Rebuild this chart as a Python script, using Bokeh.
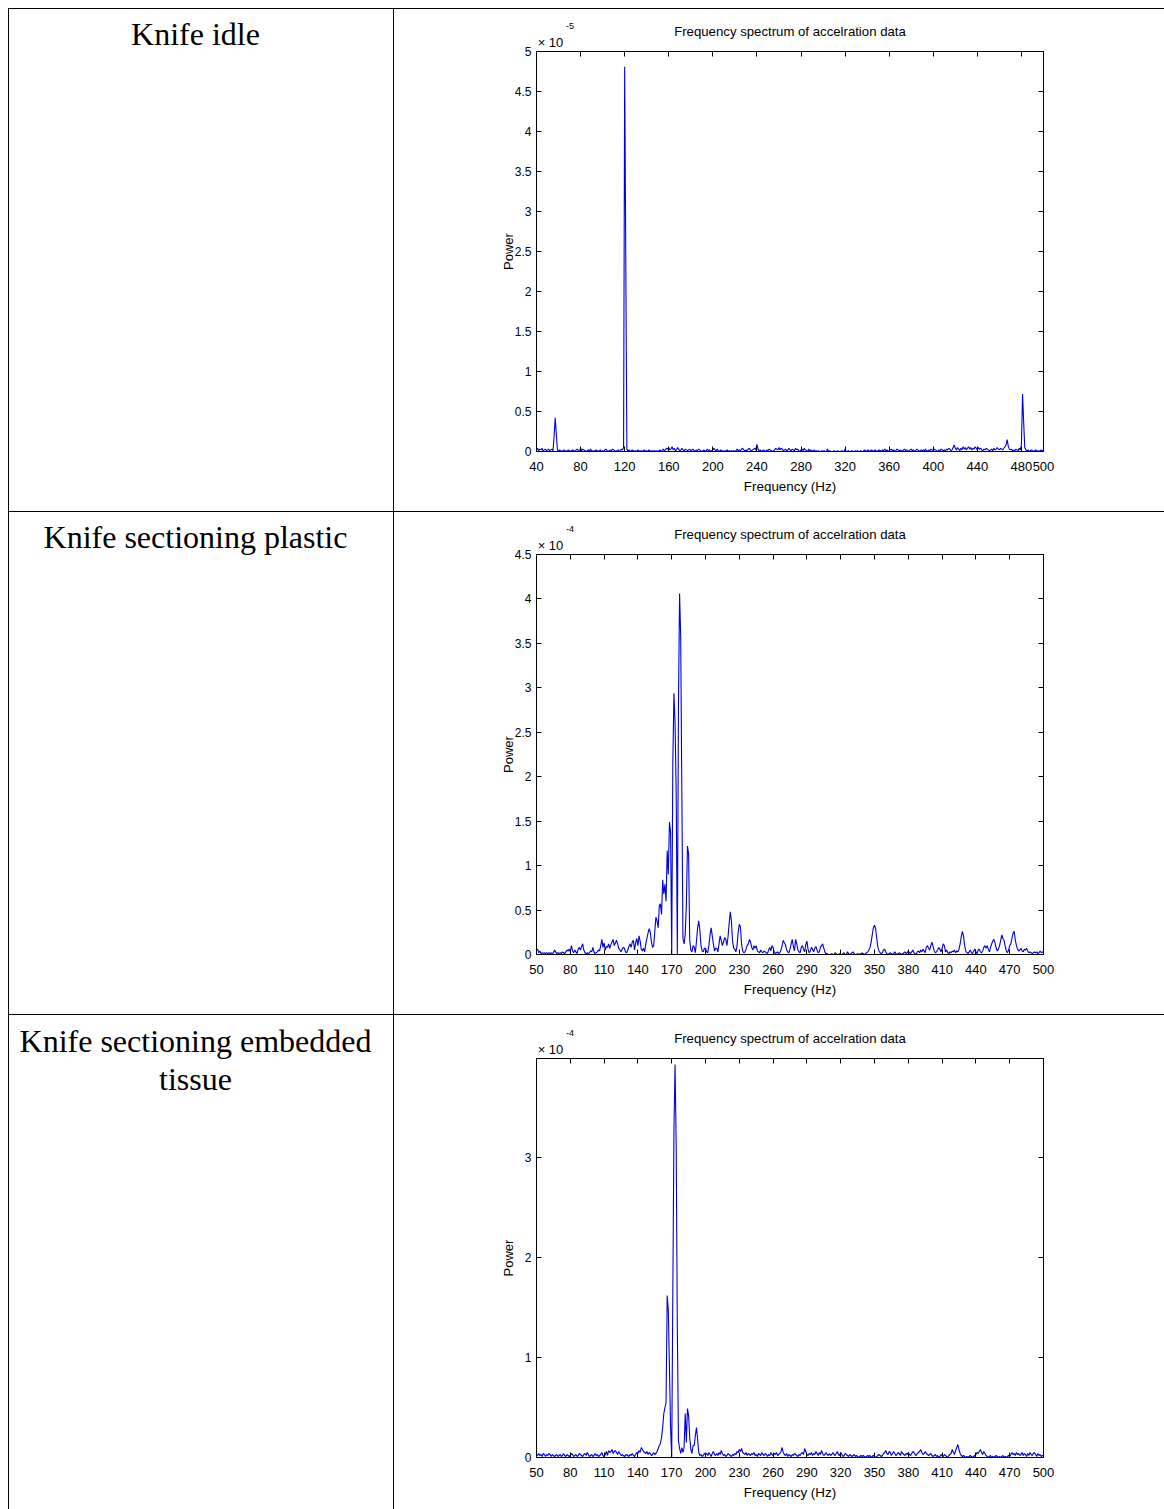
from bokeh.plotting import figure
from bokeh.layouts import row, column
from bokeh.models import Range1d, LinearAxis, FixedTicker, Spacer, Title
from bokeh.core.properties import value
from bokeh.embed import file_html
from bokeh.resources import INLINE

# ---------------------------------------------------------------- data
ROW_LABELS = [
    ["Knife idle"],
    ["Knife sectioning plastic"],
    ["Knife sectioning embedded", "tissue"],
]
TITLE = "Frequency spectrum of accelration data"
X_LABEL = "Frequency (Hz)"
Y_LABEL = "Power"

# Knife idle: power per 1 Hz bin from 40 Hz to 500 Hz, in units of 1e-5
IDLE_START_HZ = 40
IDLE_POWER = [
    .02, .04, .01, .03, .02, .04, .01, .02, .03, .01,
    .02, .03, .01, .02, .03, .01, .20, .42, .21, .02,
    .01, .02, .01, .00, .01, .02, .01, .00, .01, .02,
    .01, .00, .01, .02, .01, .00, .02, .03, .01, .00,
    .04, .01, .03, .02, .01, .00, .01, .02, .00, .03,
    .01, .00, .01, .00, .02, .01, .00, .01, .02, .00,
    .01, .00, .02, .03, .01, .00, .01, .02, .01, .03,
    .02, .01, .00, .01, .02, .01, .00, .03, .02, .05,
    4.81, 2.40, .03, .01, .02, .00, .01, .02, .01, .00,
    .01, .00, .02, .01, .00, .01, .00, .01, .02, .00,
    .01, .00, .02, .01, .00, .01, .00, .01, .00, .01,
    .00, .01, .02, .00, .01, .03, .01, .02, .04, .03,
    .05, .02, .03, .06, .02, .04, .01, .02, .05, .03,
    .01, .02, .04, .02, .01, .03, .02, .01, .02, .03,
    .01, .02, .03, .01, .00, .02, .01, .03, .02, .01,
    .00, .01, .02, .00, .01, .03, .01, .02, .00, .01,
    .02, .04, .02, .01, .03, .01, .00, .02, .01, .00,
    .01, .00, .01, .02, .00, .01, .00, .01, .00, .01,
    .00, .01, .03, .01, .02, .01, .03, .04, .02, .01,
    .02, .01, .03, .04, .02, .01, .02, .03, .04, .02,
    .09, .03, .01, .02, .00, .01, .02, .01, .00, .02,
    .01, .03, .02, .01, .00, .01, .02, .04, .03, .02,
    .05, .02, .04, .03, .01, .02, .03, .01, .02, .04,
    .02, .01, .03, .02, .01, .04, .02, .03, .01, .00,
    .02, .03, .01, .04, .02, .01, .00, .03, .01, .02,
    .01, .00, .02, .00, .01, .00, .01, .00, .00, .01,
    .00, .01, .00, .00, .03, .00, .01, .00, .00, .00,
    .01, .00, .00, .01, .00, .00, .00, .01, .00, .00,
    .03, .00, .00, .01, .00, .00, .01, .00, .00, .01,
    .00, .01, .00, .00, .01, .00, .00, .01, .02, .00,
    .01, .02, .00, .01, .02, .01, .00, .02, .01, .00,
    .01, .02, .01, .00, .02, .01, .03, .01, .02, .00,
    .01, .02, .03, .01, .02, .00, .01, .03, .02, .01,
    .02, .01, .00, .02, .03, .01, .02, .00, .01, .02,
    .03, .01, .02, .00, .01, .03, .02, .01, .00, .02,
    .01, .02, .01, .03, .00, .01, .02, .01, .03, .02,
    .01, .03, .02, .01, .00, .02, .01, .03, .02, .01,
    .02, .01, .03, .02, .04, .03, .01, .02, .05, .08,
    .04, .02, .05, .03, .01, .04, .02, .06, .03, .05,
    .02, .04, .06, .03, .05, .02, .04, .03, .06, .04,
    .02, .05, .03, .04, .02, .01, .03, .02, .04, .03,
    .02, .01, .02, .03, .01, .04, .02, .03, .05, .03,
    .02, .04, .03, .02, .04, .06, .08, .15, .07, .03,
    .02, .03, .01, .02, .01, .03, .02, .01, .04, .02,
    .10, .72, .37, .05, .02, .01, .02, .00, .01, .02,
    .01, .00, .01, .02, .00, .01, .00, .01, .02, .01,
    .01,
]

# Knife sectioning plastic: 1 Hz bins from 50 Hz to 500 Hz, units of 1e-4
PLASTIC_START_HZ = 50
PLASTIC_POWER = [
    .05, .06, .02, .04, .01, .02, .01, .02, .01, .02,
    .01, .02, .01, .02, .01, .02, .05, .03, .01, .02,
    .01, .02, .01, .03, .02, .01, .03, .05, .04, .06,
    .03, .10, .04, .02, .05, .03, .01, .06, .08, .05,
    .09, .12, .05, .02, .01, .02, .01, .02, .04, .03,
    .08, .03, .01, .02, .03, .05, .04, .10, .17, .08,
    .13, .05, .09, .08, .12, .07, .11, .14, .17, .10,
    .13, .16, .12, .07, .05, .03, .06, .08, .07, .03,
    .02, .05, .09, .12, .08, .14, .16, .05, .13, .18,
    .10, .21, .15, .06, .04, .07, .03, .12, .18, .24,
    .29, .25, .14, .08, .10, .26, .42, .38, .30, .55,
    .57, .45, .84, .68, .79, .60, 1.17, .90, 1.49, 1.38,
    .00, 2.16, 2.94, 2.60, 1.80, .00, 2.80, 4.06, 3.57, 1.82,
    .18, .12, .23, .55, 1.22, 1.13, .16, .05, .03, .10,
    .08, .02, .15, .30, .38, .27, .10, .04, .03, .07,
    .07, .03, .02, .10, .22, .30, .21, .12, .04, .07,
    .07, .03, .12, .21, .16, .10, .14, .19, .17, .10,
    .20, .35, .48, .38, .15, .07, .06, .03, .10, .25,
    .34, .31, .12, .04, .02, .03, .06, .10, .12, .17,
    .14, .08, .05, .10, .07, .10, .04, .03, .02, .05,
    .03, .02, .04, .03, .02, .01, .05, .08, .04, .10,
    .08, .03, .01, .02, .03, .01, .02, .05, .10, .16,
    .13, .11, .05, .03, .02, .06, .12, .17, .09, .04,
    .17, .12, .05, .03, .02, .08, .10, .06, .03, .11,
    .15, .06, .02, .04, .08, .06, .03, .07, .09, .05,
    .02, .03, .08, .10, .12, .07, .03, .01, .01, .00,
    .00, .00, .01, .00, .00, .02, .01, .00, .00, .01,
    .00, .00, .01, .02, .00, .00, .03, .01, .00, .01,
    .02, .03, .01, .00, .00, .01, .00, .01, .00, .02,
    .01, .00, .01, .02, .03, .05, .08, .14, .22, .30,
    .33, .29, .18, .08, .04, .02, .01, .02, .05, .06,
    .03, .01, .00, .01, .02, .01, .00, .01, .03, .01,
    .00, .01, .02, .01, .00, .01, .02, .03, .01, .02,
    .04, .02, .01, .03, .05, .02, .01, .00, .03, .04,
    .02, .05, .03, .06, .04, .02, .08, .10, .07, .05,
    .10, .14, .09, .04, .02, .03, .05, .08, .06, .03,
    .07, .12, .10, .03, .05, .02, .01, .03, .02, .04,
    .03, .05, .02, .04, .03, .06, .12, .20, .26, .21,
    .10, .04, .02, .01, .03, .05, .02, .01, .04, .06,
    .03, .01, .05, .06, .03, .02, .04, .08, .10, .07,
    .10, .06, .03, .08, .12, .15, .17, .13, .07, .04,
    .06, .10, .16, .22, .18, .16, .09, .04, .02, .05,
    .10, .12, .18, .24, .26, .16, .10, .06, .04, .05,
    .07, .04, .03, .06, .05, .07, .04, .02, .03, .02,
    .01, .02, .03, .02, .03, .01, .02, .04, .02, .03,
    .02,
]

# Knife sectioning embedded tissue: 1 Hz bins from 50 Hz to 500 Hz, units of 1e-4
TISSUE_START_HZ = 50
TISSUE_POWER = [
    .03, .02, .04, .02, .03, .01, .04, .03, .01, .03,
    .02, .04, .03, .01, .03, .02, .01, .02, .03, .01,
    .02, .03, .01, .02, .04, .02, .01, .03, .02, .01,
    .02, .04, .03, .01, .02, .03, .01, .02, .04, .03,
    .02, .01, .03, .04, .02, .05, .03, .01, .02, .03,
    .01, .02, .04, .02, .03, .01, .02, .03, .05, .02,
    .01, .03, .06, .02, .07, .05, .06, .08, .04, .06,
    .07, .05, .03, .06, .04, .02, .03, .02, .01, .02,
    .03, .02, .01, .03, .02, .04, .02, .01, .03, .05,
    .04, .07, .05, .10, .08, .06, .05, .04, .06, .03,
    .05, .04, .02, .03, .05, .03, .04, .06, .09, .12,
    .14, .20, .30, .44, .50, .55, 1.62, 1.47, .90, .30,
    .00, 1.64, 3.29, 3.93, 3.10, 1.29, .17, .09, .04, .10,
    .05, .10, .44, .15, .49, .42, .20, .08, .04, .12,
    .12, .22, .30, .18, .05, .02, .03, .01, .02, .04,
    .03, .04, .02, .05, .03, .01, .04, .06, .03, .02,
    .04, .02, .05, .03, .07, .04, .02, .03, .01, .02,
    .04, .03, .02, .01, .03, .02, .04, .03, .06, .05,
    .08, .06, .09, .05, .04, .03, .05, .02, .04, .03,
    .02, .04, .03, .05, .02, .03, .01, .04, .03, .02,
    .05, .03, .02, .04, .03, .01, .03, .02, .05, .03,
    .02, .04, .03, .05, .02, .03, .04, .06, .10, .05,
    .03, .02, .04, .01, .03, .02, .01, .03, .02, .04,
    .03, .02, .01, .03, .02, .04, .05, .03, .09, .06,
    .03, .02, .04, .03, .05, .02, .04, .03, .06, .04,
    .02, .05, .03, .07, .04, .02, .03, .05, .03, .02,
    .04, .02, .03, .05, .03, .02, .04, .06, .03, .02,
    .05, .03, .01, .02, .04, .03, .02, .01, .03, .02,
    .01, .02, .03, .01, .02, .01, .00, .01, .02, .01,
    .02, .01, .00, .01, .02, .01, .02, .00, .01, .02,
    .01, .00, .01, .02, .03, .02, .01, .02, .04, .05,
    .07, .04, .03, .06, .05, .02, .04, .06, .04, .02,
    .03, .05, .04, .02, .06, .04, .03, .02, .04, .03,
    .05, .03, .02, .04, .06, .05, .03, .02, .04, .05,
    .06, .08, .05, .03, .04, .06, .04, .03, .02, .03,
    .04, .02, .01, .02, .03, .01, .02, .00, .01, .03,
    .02, .01, .03, .02, .01, .00, .02, .03, .04, .08,
    .05, .03, .07, .10, .13, .08, .04, .02, .01, .02,
    .01, .00, .01, .00, .01, .02, .01, .00, .01, .02,
    .03, .05, .04, .06, .08, .05, .03, .06, .04, .02,
    .01, .00, .01, .02, .00, .01, .00, .01, .02, .01,
    .00, .01, .00, .01, .02, .00, .01, .00, .01, .02,
    .01, .03, .05, .03, .04, .02, .05, .03, .04, .02,
    .03, .05, .02, .04, .03, .01, .04, .02, .05, .03,
    .02, .04, .05, .03, .01, .04, .02, .03, .01, .02,
    .02,
]

IDLE_XTICKS = [40, 80, 120, 160, 200, 240, 280, 320, 360, 400, 440, 480, 500]
SECTION_XTICKS = [50, 80, 110, 140, 170, 200, 230, 260, 290, 320, 350, 380, 410, 440, 470, 500]
IDLE_YTICKS = [0, 0.5, 1, 1.5, 2, 2.5, 3, 3.5, 4, 4.5, 5]
PLASTIC_YTICKS = [0, 0.5, 1, 1.5, 2, 2.5, 3, 3.5, 4, 4.5]
TISSUE_YTICKS = [0, 1, 2, 3]
MULTIPLIER = "\u00d7 10"
IDLE_EXPONENT = "-5"
SECTION_EXPONENT = "-4"

# ---------------------------------------------------------------- layout constants
PAGE_W = 1164
MARGIN = 8
CELL_W = 384
PLOT_W = 770
FRAME_W = 507
SANS = "Liberation Sans"
SERIF = "Liberation Serif"
LINE_BLUE = "#0000dd"
# (row height, top border, frame height) for each table row
ROW_GEOMETRY = [(502, 42, 400), (502, 42, 400), (494, 43, 399)]


def hline(w):
    return Spacer(width=w, height=1, styles={"background-color": "black"})


def vline(h):
    return Spacer(width=1, height=h, styles={"background-color": "black"})


def text_cell(lines, h, top, frame_h):
    """Left table cell: the first line sits above the frame as a title,
    any further lines are drawn inside the frame in pixel coordinates."""
    inner_w = CELL_W - 12
    c = figure(title=None, width=CELL_W, height=h,
               x_range=Range1d(0, inner_w), y_range=Range1d(top + frame_h, top),
               min_border_left=0, min_border_right=CELL_W - inner_w, min_border_top=top,
               min_border_bottom=h - top - frame_h,
               output_backend="svg", toolbar_location=None, tools="",
               x_axis_location=None, y_axis_location=None, outline_line_color=None,
               background_fill_color="white", border_fill_color="white")
    c.grid.visible = False
    c.add_layout(Title(text=lines[0], align="center", standoff=0,
                       text_font=SERIF, text_font_size="32px", text_font_style="normal",
                       text_color="black"), "above")
    rest = lines[1:]
    if rest:
        c.text(x=[inner_w / 2] * len(rest), y=[26 + 37 * (i + 1) for i in range(len(rest))],
               text=rest, text_font=value(SERIF), text_font_size="32px", text_align="center",
               text_baseline="middle", text_color="black")
    return c


def style_axis(ax, ticks, labelled, label_size="13px"):
    ax.ticker = FixedTicker(ticks=ticks)
    ax.major_tick_in = 5
    ax.major_tick_out = 0
    ax.minor_tick_line_color = None
    ax.axis_line_color = "black"
    ax.major_tick_line_color = "black"
    ax.major_label_text_font = SANS
    ax.major_label_text_color = "black"
    if labelled:
        ax.major_label_text_font_size = label_size
        ax.major_label_overrides = {t: ("%g" % t) for t in ticks}
    else:
        # tick marks only on the top and right edges
        ax.major_label_text_font_size = "0px"
        ax.major_label_standoff = 0
        ax.major_label_overrides = {t: "" for t in ticks}


def text_axis(p, x, text, size, standoff):
    """A bare axis above the frame that only carries one text label at x."""
    ax = LinearAxis(ticker=FixedTicker(ticks=[x]))
    p.add_layout(ax, "above")
    ax.axis_line_color = None
    ax.major_tick_line_color = None
    ax.minor_tick_line_color = None
    ax.major_label_overrides = {x: text}
    ax.major_label_text_font = SANS
    ax.major_label_text_font_size = size
    ax.major_label_text_color = "black"
    ax.major_label_standoff = standoff
    return ax


def spectrum(start_hz, power, xticks, yticks, ymax, exponent, h, top, frame_h, ylabel_standoff):
    freq = list(range(start_hz, start_hz + len(power)))
    x0, x1 = xticks[0], xticks[-1]
    hz_per_px = (x1 - x0) / FRAME_W
    p = figure(title=None, width=PLOT_W, height=h, x_range=Range1d(x0, x1), y_range=Range1d(0, ymax),
               min_border_left=142, min_border_right=PLOT_W - 142 - FRAME_W, min_border_top=top,
               min_border_bottom=h - top - frame_h, output_backend="svg",
               toolbar_location=None, tools="", background_fill_color="white",
               border_fill_color="white", outline_line_color="black")
    p.grid.visible = False

    # top edge: inward ticks only
    top_axis = LinearAxis()
    p.add_layout(top_axis, "above")
    style_axis(top_axis, xticks, False)

    # "x 10" multiplier just above the top-left corner
    text_axis(p, x0 + 14 * hz_per_px, MULTIPLIER, "13px", -4)

    # its exponent, with the chart title carried as this axis' label
    exp_axis = text_axis(p, x0 + 33.5 * hz_per_px, exponent, "9px", -3)
    exp_axis.axis_label = TITLE
    exp_axis.axis_label_text_font = SANS
    exp_axis.axis_label_text_font_size = "13.2px"
    exp_axis.axis_label_text_font_style = "normal"
    exp_axis.axis_label_text_color = "black"
    exp_axis.axis_label_standoff = -19

    right_axis = LinearAxis()
    p.add_layout(right_axis, "right")
    style_axis(right_axis, yticks, False)

    style_axis(p.below[0], xticks, True, "13px")
    style_axis(p.left[0], yticks, True, "12px")

    xb = p.below[0]
    xb.major_label_standoff = 10
    xb.axis_label = X_LABEL
    xb.axis_label_text_font = SANS
    xb.axis_label_text_font_size = "13.4px"
    xb.axis_label_text_font_style = "normal"
    xb.axis_label_text_color = "black"
    xb.axis_label_standoff = 5

    yl = p.left[0]
    yl.major_label_standoff = 5
    yl.axis_label = Y_LABEL
    yl.axis_label_text_font = SANS
    yl.axis_label_text_font_size = "13px"
    yl.axis_label_text_font_style = "normal"
    yl.axis_label_text_color = "black"
    yl.axis_label_standoff = ylabel_standoff

    p.line(freq, power, line_color=LINE_BLUE, line_width=1.1)
    return p


specs = [
    (IDLE_START_HZ, IDLE_POWER, IDLE_XTICKS, IDLE_YTICKS, 5.0, IDLE_EXPONENT, -4),
    (PLASTIC_START_HZ, PLASTIC_POWER, SECTION_XTICKS, PLASTIC_YTICKS, 4.5, SECTION_EXPONENT, -4),
    (TISSUE_START_HZ, TISSUE_POWER, SECTION_XTICKS, TISSUE_YTICKS, 3.99, SECTION_EXPONENT, 6),
]

table_children = []
for lines, spec, (h, top, frame_h) in zip(ROW_LABELS, specs, ROW_GEOMETRY):
    start, power, xt, yt, ymax, exponent, ystand = spec
    plot = spectrum(start, power, xt, yt, ymax, exponent, h, top, frame_h, ystand)
    cell = text_cell(lines, h, top, frame_h)
    table_children.append(hline(PAGE_W - MARGIN))
    table_children.append(row(vline(h), cell, vline(h), plot))

table = column(*table_children)
total_h = sum(g[0] for g in ROW_GEOMETRY) + len(ROW_GEOMETRY)
page = column(Spacer(width=PAGE_W, height=MARGIN),
              row(Spacer(width=MARGIN, height=total_h), table))

open("out.html", "w").write(file_html(page, INLINE))
